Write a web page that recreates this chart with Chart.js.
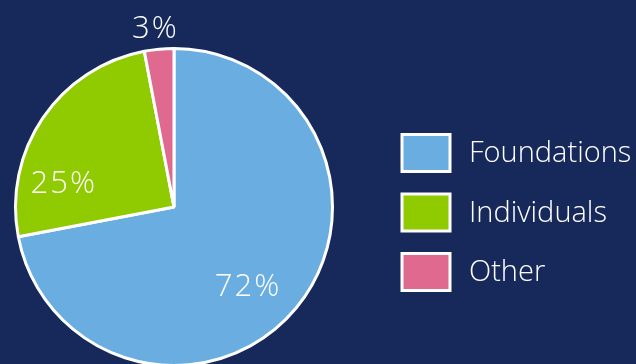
<!DOCTYPE html>
<html>
<head>
<meta charset="utf-8">
<script src="https://cdn.jsdelivr.net/npm/chart.js@4/dist/chart.umd.min.js"></script>
<style>
  html, body { margin: 0; padding: 0; background: #16295a; overflow: hidden; }
  #wrap { width: 636px; height: 372px; }
</style>
</head>
<body>
<div id="wrap"><canvas id="myChart" width="636" height="372"></canvas></div>
<script>
// data
const labels = ['Foundations', 'Individuals', 'Other'];
const shares = [72, 25, 3];
const colors = ['#6aade1', '#8fcb00', '#e06a8f'];

const FONT = '"Open Sans", "Noto Sans", sans-serif';

// where each percentage sits: fraction along the arc, fraction of radius
const labelSpots = [
  { along: 0.53, dist: 0.69 },
  { along: 0.25, dist: 0.71 },
  { along: 0.45, dist: 1.13 }
];

// percent labels on/near each slice
const pctLabels = {
  id: 'pctLabels',
  afterDatasetsDraw(chart) {
    const ctx = chart.ctx;
    const arcs = chart.getDatasetMeta(0).data;
    ctx.save();
    ctx.fillStyle = '#ffffff';
    ctx.font = '300 31px ' + FONT;
    ctx.letterSpacing = '2px';
    ctx.textAlign = 'center';
    ctx.textBaseline = 'middle';
    arcs.forEach((arc, i) => {
      const p = arc.getProps(['x', 'y', 'startAngle', 'endAngle', 'outerRadius'], true);
      const spot = labelSpots[i];
      const a = p.startAngle + (p.endAngle - p.startAngle) * spot.along;
      const r = p.outerRadius * spot.dist;
      ctx.fillText(shares[i] + '%', p.x + Math.cos(a) * r, p.y + Math.sin(a) * r);
    });
    ctx.restore();
  }
};

// legend on the right: boxed swatches with white frame
const sideLegend = {
  id: 'sideLegend',
  afterDraw(chart) {
    const ctx = chart.ctx;
    const x0 = 402, y0 = 153, step = 59.5;
    const bw = 48, bh = 37;
    ctx.save();
    ctx.font = '300 29px ' + FONT;
    ctx.textBaseline = 'middle';
    labels.forEach((lab, i) => {
      const cy = y0 + i * step;
      ctx.fillStyle = colors[i];
      ctx.fillRect(x0, cy - bh / 2, bw, bh);
      ctx.strokeStyle = '#ffffff';
      ctx.lineWidth = 3;
      ctx.strokeRect(x0, cy - bh / 2, bw, bh);
      ctx.fillStyle = '#ffffff';
      ctx.fillText(lab, 469, cy + 1);
    });
    ctx.restore();
  }
};

const config = {
  type: 'pie',
  data: {
    labels: labels,
    datasets: [{
      data: shares,
      backgroundColor: colors,
      borderColor: '#ffffff',
      borderWidth: 3
    }]
  },
  options: {
    responsive: false,
    animation: false,
    layout: { padding: { left: 14, top: 47, right: 302, bottom: 5 } },
    plugins: {
      legend: { display: false },
      tooltip: { enabled: false }
    }
  },
  plugins: [pctLabels, sideLegend]
};

new Chart(document.getElementById('myChart').getContext('2d'), config);
</script>
</body>
</html>
